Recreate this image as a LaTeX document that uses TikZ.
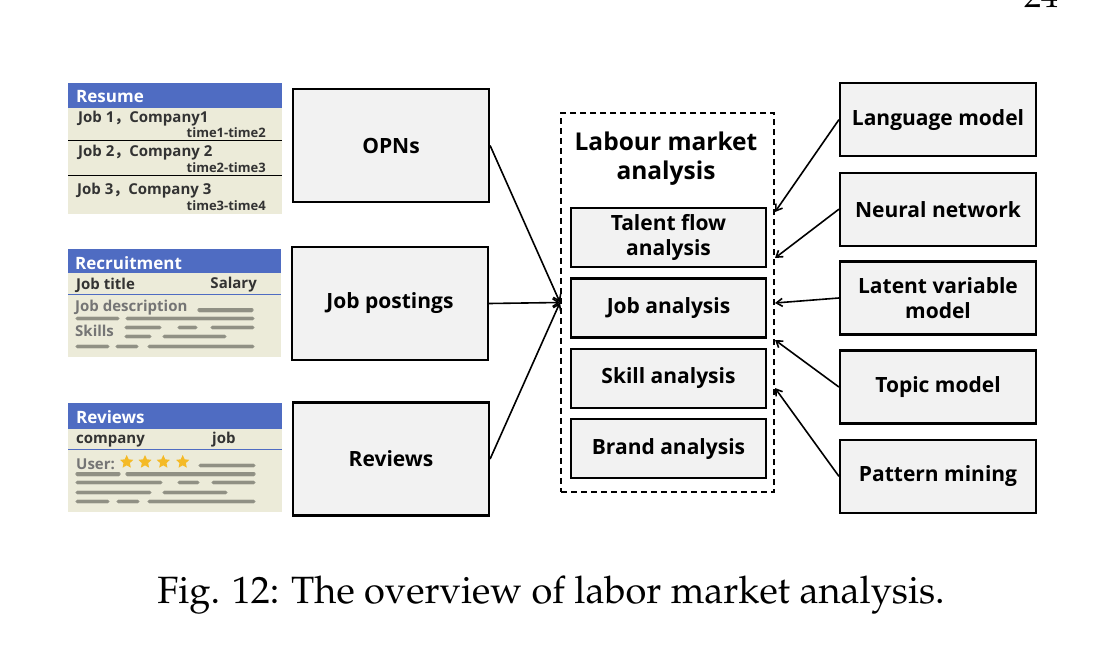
\documentclass[tikz,border=0pt]{standalone}
\usepackage{fontspec}
\newfontfamily\sans{Open Sans}
\newfontfamily\cjk{Noto Sans CJK SC}
\usetikzlibrary{arrows.meta,shapes.geometric}
\definecolor{hdr}{HTML}{4F6CC2}
\definecolor{card}{HTML}{ECEBD9}
\definecolor{boxf}{HTML}{F2F2F2}
\definecolor{txt}{HTML}{333333}
\definecolor{gtxt}{HTML}{757575}
\definecolor{bar}{HTML}{85857A}
\definecolor{gold}{HTML}{F4BA27}
\newcommand{\palfont}{\fontencoding{T1}\fontfamily{ppl}\selectfont}
\tikzset{
  box/.style={draw=black, line width=2.2pt, fill=boxf, align=center, inner sep=0pt,
    font=\sans\bfseries\fontsize{21}{25.5}\selectfont},
  ibox/.style={box, minimum width=195, minimum height=59},
  lbox/.style={box, minimum width=196, minimum height=113},
  rbox/.style={box, minimum width=196, minimum height=73},
  dashbox/.style={draw=black, dash pattern=on 6pt off 4pt, line width=2pt, inner sep=0pt},
  arr/.style={draw=black, line width=1.6pt, -{Straight Barb[length=6pt,width=8pt]}},
  hdrtxt/.style={text=white, font=\sans\bfseries\fontsize{17}{19}\selectfont, inner sep=0pt},
  ctxt/.style={text=txt, font=\sans\bfseries\fontsize{15}{17}\selectfont, inner sep=0pt},
  stxt/.style={text=txt, font=\sans\bfseries\fontsize{13}{15}\selectfont, inner sep=0pt},
  gt/.style={text=gtxt, font=\sans\bfseries\fontsize{15}{17}\selectfont, inner sep=0pt},
  blur/.style={draw=bar, line width=3.2pt, line cap=round, opacity=0.85,
    preaction={draw=bar, line width=5pt, opacity=0.25}},
  starn/.style={star, star points=5, star point ratio=2.1, fill=gold, inner sep=0pt, minimum size=14pt},
}
\begin{document}
\begin{tikzpicture}[x=1pt,y=-1pt]
\useasboundingbox (0,0) rectangle (1104,645);
\fill[white] (0,0) rectangle (1104,645);

% ---------- Resume card
\fill[card] (68,83) rectangle (282,214);
\fill[hdr] (68,83) rectangle (282,108);
\node[hdrtxt, anchor=west] (rh) at (76,97) {Resume};
\node[ctxt, anchor=west] (r1) at (78,119) {Job 1{\cjk ，}Company1};
\node[stxt, anchor=east] (t1) at (266,133) {time1-time2};
\draw[black, line width=1.5pt] (68,140.7) -- (282,140.7);
\node[ctxt, anchor=west] (r2) at (78,153) {Job 2{\cjk ，}Company 2};
\node[stxt, anchor=east] (t2) at (266,168) {time2-time3};
\draw[black, line width=1.5pt] (68,175.7) -- (282,175.7);
\node[ctxt, anchor=west] (r3) at (77,191) {Job 3{\cjk ，}Company 3};
\node[stxt, anchor=east] (t3) at (266,206) {time3-time4};

% ---------- Recruitment card
\fill[card] (68,249) rectangle (281,357);
\fill[hdr] (68,249) rectangle (281,273);
\node[hdrtxt, anchor=west] (qh) at (75,263) {Recruitment};
\node[ctxt, anchor=west] (q1) at (76,285) {Job title};
\node[ctxt, anchor=east] (q2) at (257,285) {Salary};
\draw[hdr, line width=1.3pt] (68,294.3) -- (281,294.3);
\node[gt, anchor=west] (q3) at (75,308) {Job description};
\node[gt, anchor=west] (q4) at (75,331) {Skills};
\draw[blur] (199,310) -- (252,310);
\draw[blur] (77,318.5) -- (118,318.5) (127,318.5) -- (253,318.5);
\draw[blur] (126,327.3) -- (160,327.3) (179,327.3) -- (196,327.3) (212,327.3) -- (253,327.3);
\draw[blur] (126,336.7) -- (150,336.7) (164,336.7) -- (225,336.7);
\draw[blur] (77,346.7) -- (108,346.7) (117,346.7) -- (137,346.7) (149,346.7) -- (253,346.7);

% ---------- Reviews card
\fill[card] (68,403) rectangle (282,512);
\fill[hdr] (68,403) rectangle (282,429);
\node[hdrtxt, anchor=west] (vh) at (76,417) {Reviews};
\node[ctxt, anchor=west] (v1) at (76,441) {company};
\node[ctxt, anchor=west] (v2) at (212,440) {job};
\draw[hdr, line width=1.3pt] (68,449.3) -- (282,449.3);
\node[gt, anchor=west] (v3) at (76,464) {User:};
\node[starn] (s1) at (126.7,462) {};
\node[starn] (s2) at (145,462) {};
\node[starn] (s3) at (163.3,462) {};
\node[starn] (s4) at (182.7,462) {};
\draw[blur] (200,465.7) -- (254,465.7);
\draw[blur] (77,474) -- (119,474) (127,474) -- (254,474);
\draw[blur] (77,482.7) -- (161,482.7) (179,482.7) -- (198,482.7) (213,482.7) -- (254,482.7);
\draw[blur] (77,492.3) -- (150,492.3) (164,492.3) -- (226,492.3);
\draw[blur] (77,501.7) -- (108,501.7) (118,501.7) -- (138,501.7) (149,501.7) -- (254,501.7);

% ---------- source boxes
\node[lbox] (opn) at (391,145.5) {OPNs};
\node[lbox] (jp) at (390,303.5) {Job postings};
\node[lbox] (rev) at (391,459) {Reviews};

% ---------- central dashed box
\node[dashbox, minimum width=213, minimum height=379] (dash) at (667.5,302.5) {};
\node[font=\sans\bfseries\fontsize{24.5}{29}\selectfont, align=center, inner sep=0pt] (title) at (666,158.5) {Labour market\\analysis};
\node[ibox] (tf) at (668.5,237.3) {Talent flow\\analysis};
\node[ibox] (ja) at (668.5,308) {Job analysis};
\node[ibox] (sa) at (668.5,378.5) {Skill analysis};
\node[ibox] (ba) at (668.5,448.8) {Brand analysis};

% ---------- method boxes
\node[rbox] (lm) at (938,119.7) {Language model};
\node[rbox] (nn) at (938,209.2) {Neural network};
\node[rbox] (lv) at (938,298) {Latent variable\\model};
\node[rbox] (tm) at (938,387) {Topic model};
\node[rbox] (pm) at (938,476.3) {Pattern mining};

% ---------- connectors
\draw[arr] (opn.east) -- (dash.west);
\draw[arr] (jp.east) -- (dash.west);
\draw[arr] (rev.east) -- (dash.west);

\coordinate (e1) at (775,212);
\coordinate (e2) at (775,258);
\coordinate (e3) at (775,303);
\coordinate (e4) at (775,340);
\coordinate (e5) at (775,388);
\draw[arr] (lm.west) -- (e1);
\draw[arr] (nn.west) -- (e2);
\draw[arr] (lv.west) -- (e3);
\draw[arr] (tm.west) -- (e4);
\draw[arr] (pm.west) -- (e5);

% ---------- caption and page number
\node[font=\palfont\fontsize{38}{43}\selectfont, anchor=base, inner sep=0pt] (cap) at (551,603) {Fig. 12: The overview of labor market analysis.};
\node[font=\palfont\fontsize{34}{40}\selectfont, anchor=base, inner sep=0pt] (pg) at (1041,7) {24};
\end{tikzpicture}
\end{document}
